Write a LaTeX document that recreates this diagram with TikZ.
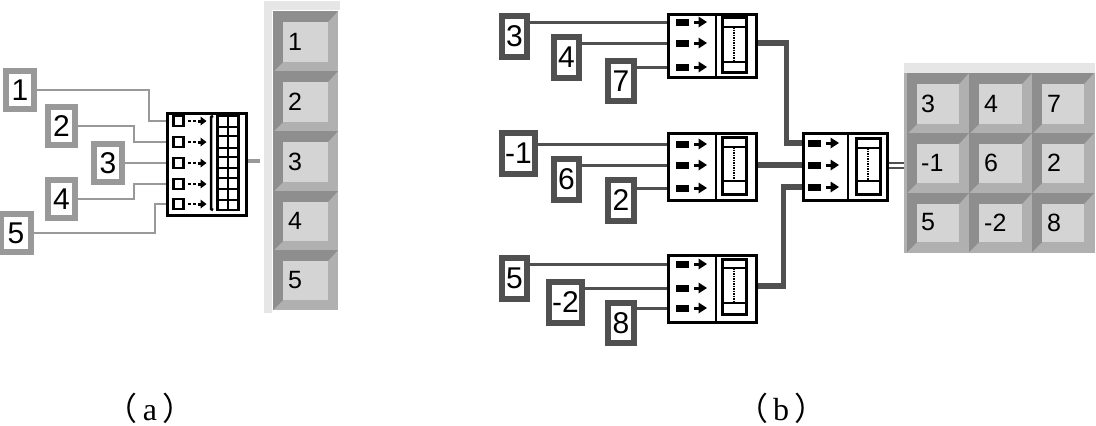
\documentclass[tikz,border=0pt]{standalone}
\usepackage{fontspec}
\setmainfont{Liberation Serif}
\setsansfont{Liberation Sans}
\newfontfamily\cjk{Noto Sans CJK SC}
\definecolor{wirelight}{HTML}{999999}
\definecolor{wiredark}{HTML}{505050}
\definecolor{keyface}{HTML}{D4D4D4}
\definecolor{keydark}{HTML}{8E8E8E}
\definecolor{keylite}{HTML}{B0B0B0}
\definecolor{keyedge}{HTML}{E6E6E6}
\tikzset{
  ctrllight/.style={draw=wirelight, line width=6pt, fill=white, inner sep=0pt, font=\sffamily\fontsize{30}{30}\selectfont},
  ctrldark/.style={draw=wiredark, line width=6pt, fill=white, inner sep=0pt, font=\sffamily\fontsize{30}{30}\selectfont},
  buildbox/.style={draw=black, line width=2.5pt, fill=white, inner sep=0pt, anchor=north west},
  wirea/.style={draw=wirelight, line width=2.5pt},
  wireb/.style={draw=wiredark, line width=3pt},
  wirethick/.style={draw=wiredark, line width=5.5pt},
  keytext/.style={inner sep=0pt, anchor=west, font=\sffamily\fontsize{25}{25}\selectfont},
  caption/.style={inner sep=0pt, anchor=base, font=\fontsize{32}{32}\selectfont}
}
% one indicator of the array, corners in pixels
\newcommand{\keycell}[7]{%
  \fill[keylite] (#1,#2) rectangle (#3,#4);
  \fill[keydark] (#1,#2) -- (#3,#2) -- (#3-10,#2+11) -- (#1+10,#2+11) -- (#1+10,#4-10) -- (#1,#4) -- cycle;
  \fill[keyface] (#1+10,#2+11) rectangle (#3-10,#4-10);
  \node[keytext] (#5) at (#1+#7,{(#2+#4)/2}) {#6};
}
% rectangle and arrow of one input of the build box
\newcommand{\portmark}[2]{%
  \fill[black] (#1,#2-3.5) rectangle (#1+13,#2+3.5);
  \fill[black] (#1+18,#2-1.5) rectangle (#1+25,#2+1.5);
  \fill[black] (#1+22.5,#2-5.5) -- (#1+31,#2) -- (#1+22.5,#2+5.5) -- cycle;
}
% slider drawn in the right half of a build box
\newcommand{\slidermark}[5]{%
  \draw[black, line width=3pt] (#1,#2) rectangle (#1+24,#3);
  \draw[black, line width=2.5pt] (#1,#4) -- (#1+24,#4) (#1,#5) -- (#1+24,#5);
  \draw[black, line width=1.5pt, densely dotted] (#1+12,#4) -- (#1+12,#5);
}
\begin{document}
\begin{tikzpicture}[x=1pt,y=-1pt]
\useasboundingbox (0,0) rectangle (1096,426);

% (a) controls
\node[ctrllight, minimum width=28pt, minimum height=38pt] (na1) at (20,90) {1};
\node[ctrllight, minimum width=27pt, minimum height=38pt] (na2) at (61.5,126) {2};
\node[ctrllight, minimum width=28pt, minimum height=38pt] (na3) at (108,163) {3};
\node[ctrllight, minimum width=27pt, minimum height=38pt] (na4) at (61.5,199) {4};
\node[ctrllight, minimum width=30pt, minimum height=38pt] (na5) at (16,233) {5};

% (a) build array
\node[buildbox, minimum width=79pt, minimum height=102pt] (arra) at (166,112) {};
\foreach \i/\ypos in {1/121,2/142,3/163,4/184,5/204} {
  \coordinate (pa\i) at (arra.west |- 0,\ypos);
  \draw[black, line width=2.5pt] (173.5,\ypos-5) rectangle (183.5,\ypos+5);
  \fill[black] (188,\ypos-1.2) rectangle (190.5,\ypos+1.2);
  \fill[black] (193,\ypos-1.2) rectangle (195.5,\ypos+1.2);
  \fill[black] (198,\ypos-1.5) rectangle (203,\ypos+1.5);
  \fill[black] (200.5,\ypos-4.5) -- (206.5,\ypos) -- (200.5,\ypos+4.5) -- cycle;
}
\draw[black, line width=2.5pt] (213,116) -- (211,117) -- (211,209) -- (213,210);
\draw[black, line width=2.5pt] (217.5,116) rectangle (238.5,210);
\draw[black, line width=2.5pt] (228,116) -- (228,210);
\foreach \ypos in {127,136,148,157,168,178,189,200}
  \draw[black, line width=2pt] (217.5,\ypos) -- (238.5,\ypos);

\draw[wirea] (na1.east) -- ++(112,0) |- (pa1);
\draw[wirea] (na2.east) -- ++(56,0) |- (pa2);
\draw[wirea] (na3.east) -- (pa3);
\draw[wirea] (na4.east) -- ++(56,0) |- (pa4);
\draw[wirea] (na5.east) -- ++(121,0) |- (pa5);
\coordinate (outa) at (260,161);
\draw[draw=wirelight, line width=4pt] (arra.east |- outa) -- (outa);

% (a) indicators
\fill[keyedge] (264,1) rectangle (340,10);
\fill[keyedge] (264,1) rectangle (272,313);
\keycell{273}{11}{338}{72}{ka1}{1}{15}
\keycell{273}{71}{338}{132}{ka2}{2}{15}
\keycell{273}{131}{338}{192}{ka3}{3}{15}
\keycell{273}{191}{338}{251}{ka4}{4}{15}
\keycell{273}{250}{338}{310}{ka5}{5}{15}

% (b) controls
\node[ctrldark, minimum width=25pt, minimum height=41pt] (nb1) at (514.5,36.5) {3};
\node[ctrldark, minimum width=25pt, minimum height=41pt] (nb2) at (566.5,57.5) {4};
\node[ctrldark, minimum width=26pt, minimum height=40pt] (nb3) at (621,81) {7};
\node[ctrldark, minimum width=33pt, minimum height=41pt] (nb4) at (518.5,153.5) {-1};
\node[ctrldark, minimum width=25pt, minimum height=41pt] (nb5) at (566.5,179.5) {6};
\node[ctrldark, minimum width=26pt, minimum height=41pt] (nb6) at (621,200) {2};
\node[ctrldark, minimum width=25pt, minimum height=41pt] (nb7) at (514.5,278.5) {5};
\node[ctrldark, minimum width=33pt, minimum height=41pt] (nb8) at (565.5,302.5) {-2};
\node[ctrldark, minimum width=26pt, minimum height=40pt] (nb9) at (621,323) {8};

% (b) build boxes
\node[buildbox, minimum width=88pt, minimum height=63pt] (bx1) at (667,13) {};
\node[buildbox, minimum width=88pt, minimum height=67pt] (bx2) at (667,132) {};
\node[buildbox, minimum width=88pt, minimum height=67pt] (bx3) at (667,254) {};
\node[buildbox, minimum width=84pt, minimum height=67pt] (bx4) at (802,132) {};
\draw[black, line width=2.5pt] (716,13) -- (716,76) (716,132) -- (716,199) (716,254) -- (716,321) (848,132) -- (848,199);
\foreach \i/\ypos in {1/22,2/43,3/67,4/144,5/165,6/188,7/264,8/288,9/308} {
  \coordinate (pb\i) at (bx1.west |- 0,\ypos);
  \portmark{676}{\ypos}
}
\foreach \ypos in {143,165,187} {
  \portmark{808}{\ypos}
}
\slidermark{722}{17}{72}{27}{62}
\slidermark{722}{137}{194}{147}{181}
\slidermark{722}{259}{314}{268}{303}
\slidermark{856}{138}{194}{148}{181}

\foreach \i in {1,...,9}
  \draw[wireb] (nb\i.east |- pb\i) -- (pb\i);

\coordinate (ob1) at (bx1.east |- 0,43);
\coordinate (ob2) at (bx2.east |- 0,165);
\coordinate (ob3) at (bx3.east |- 0,286);
\coordinate (ib1) at (bx4.west |- 0,143);
\coordinate (ib2) at (bx4.west |- 0,165);
\coordinate (ib3) at (bx4.west |- 0,187);
\draw[wirethick] (ob1) -- ++(29,0) |- (ib1);
\draw[wirethick] (ob2) -- (ib2);
\draw[wirethick] (ob3) -- ++(26,0) |- (ib3);
\coordinate (outb) at (904,165.5);
\draw[draw=wiredark, line width=1.8pt] (bx4.east |- 0,163) -- (outb |- 0,163);
\draw[draw=wiredark, line width=2.4pt] (bx4.east |- 0,168) -- (outb |- 0,168);

% (b) indicators
\fill[keyedge] (904,63) rectangle (1095,73);
\fill[keylite] (904,73) rectangle (1095,253);
\keycell{907}{73}{969}{134}{kb1}{3}{14}
\keycell{969}{73}{1032}{134}{kb2}{4}{15}
\keycell{1032}{73}{1094}{134}{kb3}{7}{15}
\keycell{907}{133}{969}{193}{kb4}{-1}{14}
\keycell{969}{133}{1032}{193}{kb5}{6}{15}
\keycell{1032}{133}{1094}{193}{kb6}{2}{15}
\keycell{907}{193}{969}{252}{kb7}{5}{14}
\keycell{969}{193}{1032}{252}{kb8}{-2}{15}
\keycell{1032}{193}{1094}{252}{kb9}{8}{15}

% captions
\node[caption] (capa) at (150,420) {{\cjk（}\hspace{5pt}a\hspace{5pt}{\cjk）}};
\node[caption] (capb) at (781,420) {{\cjk（}\hspace{5pt}b\hspace{5pt}{\cjk）}};
\end{tikzpicture}
\end{document}
